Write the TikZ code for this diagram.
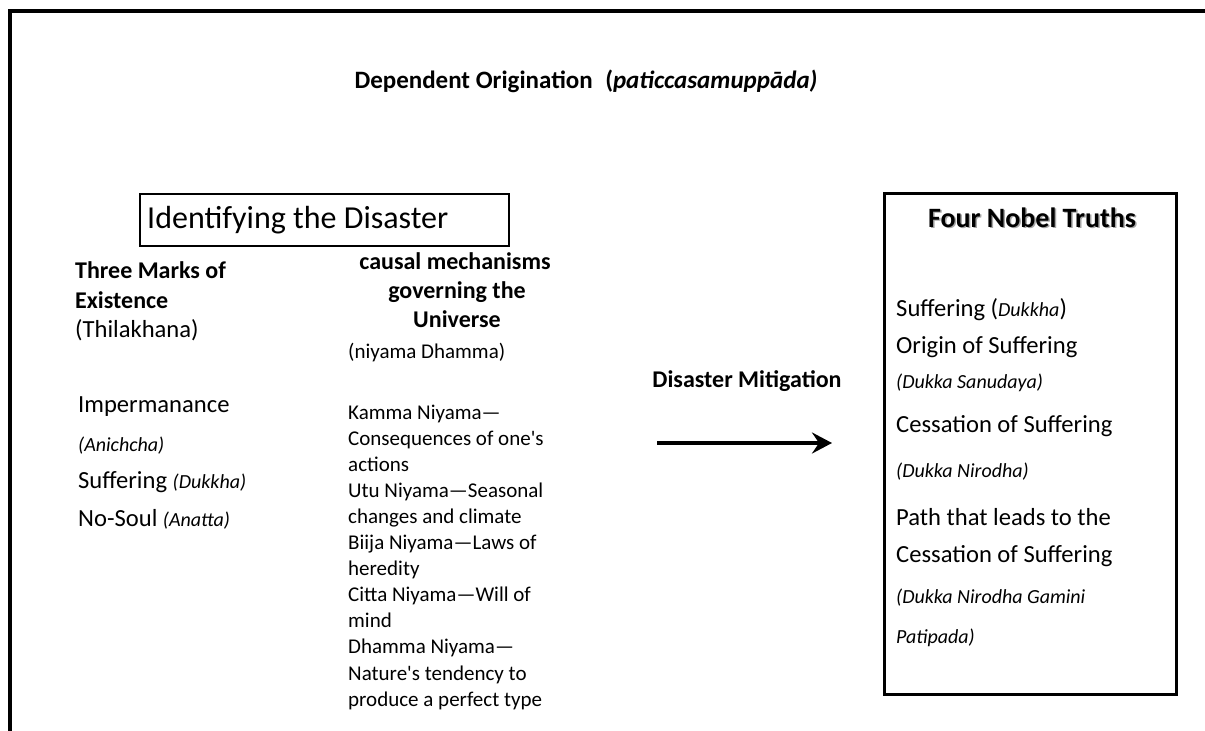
\documentclass[tikz,border=0pt]{standalone}
\usepackage{fontspec}
\setmainfont{Carlito}
\usetikzlibrary{arrows.meta}
\newcommand{\fs}[1]{\fontsize{#1}{#1}\selectfont}
\begin{document}
\begin{tikzpicture}[x=1pt,y=-1pt,
  lbl/.style={inner sep=0pt,anchor=base west},
  cbl/.style={inner sep=0pt,anchor=base},
  big/.style={font=\fs{24.6}},
  bigb/.style={font=\fs{24}\bfseries},
  small/.style={font=\fs{21}},
  ital/.style={font=\fs{20}\itshape},
  frame/.style={line width=4pt,line join=miter},
  boxline/.style={draw,line width=2pt},
  truthbox/.style={draw,line width=3pt}]
\useasboundingbox (0,0) rectangle (1205,731);
\fill[white] (0,0) rectangle (1205,731);
% outer frame (open at right and bottom)
\coordinate (fb) at (10.3,731);
\coordinate (fc) at (10.3,11.3);
\coordinate (fr) at (1205,11.3);
\draw[frame] (fb) -- (fc) -- (fr);
% title
\node[cbl,font=\fs{25}\bfseries] (title) at (586,88) {Dependent Origination\hspace{0.5em}(\textit{paticcasamuppāda)}};
% identifying box
\draw[boxline] (140,194) rectangle (509,246);
\node[lbl,font=\fs{32}] (ident) at (147,228) {Identifying the Disaster};
% left column
\node[lbl,bigb] (l1) at (75,278) {Three Marks of};
\node[lbl,bigb] (l2) at (75,308) {Existence};
\node[lbl,big] (l3) at (75,337) {(Thilakhana)};
\node[lbl,big] (l4) at (78,412) {Impermanance};
\node[lbl,ital] (l5) at (78,451) {(Anichcha)};
\node[lbl,big] (l6) at (78,488) {Suffering {\fs{20}\itshape(Dukkha)}};
\node[lbl,big] (l7) at (78,526) {No-Soul {\fs{20}\itshape(Anatta)}};
% middle column
\node[cbl,font=\fs{24}\bfseries] (m1) at (455,269) {causal mechanisms};
\node[cbl,font=\fs{24}\bfseries] (m2) at (457,298) {governing the};
\node[cbl,font=\fs{24}\bfseries] (m3) at (457,327) {Universe};
\node[lbl,small] (m4) at (348,358) {(niyama Dhamma)};
\foreach \t [count=\i from 0] in {Kamma Niyama—,Consequences of one\textquotesingle s,actions,Utu Niyama—Seasonal,changes and climate,Biija Niyama—Laws of,heredity,Citta Niyama—Will of,mind,Dhamma Niyama—,Nature\textquotesingle s tendency to,produce a perfect type}
  \node[lbl,small] (n\i) at (348,419+26.1*\i) {\t};
% arrow
\node[cbl,bigb] (mit) at (747,387) {Disaster Mitigation};
\coordinate (a1) at (657,443);
\coordinate (a2) at (832,443);
\draw[line width=4pt,-{Stealth[length=20pt,width=21pt,inset=7pt]}] (a1) -- (a2);
% right box
\draw[truthbox] (884,193) rectangle (1176,694);
\node[cbl,font=\fs{28}\bfseries,text=black!35] (fntS) at (1033.5,228.5) {Four Nobel Truths};
\node[cbl,font=\fs{28}\bfseries] (fnt) at (1032,227) {Four Nobel Truths};
\node[lbl,big] (r1) at (896,316) {Suffering ({\fs{20}\itshape Dukkha})};
\node[lbl,big] (r2) at (896,353) {Origin of Suffering};
\node[lbl,ital] (r3) at (896,388) {(Dukka Sanudaya)};
\node[lbl,big] (r4) at (896,432) {Cessation of Suffering};
\node[lbl,ital] (r5) at (896,477) {(Dukka Nirodha)};
\node[lbl,big] (r6) at (896,525) {Path that leads to the};
\node[lbl,big] (r7) at (896,562) {Cessation of Suffering};
\node[lbl,ital] (r8) at (896,603) {(Dukka Nirodha Gamini};
\node[lbl,ital] (r9) at (896,643) {Patipada)};
\end{tikzpicture}
\end{document}
